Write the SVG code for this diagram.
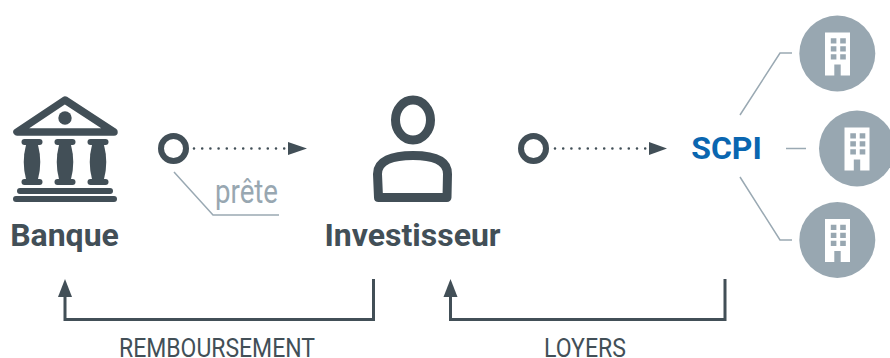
<svg xmlns="http://www.w3.org/2000/svg" width="890" height="358" viewBox="0 0 890 358">
<style>
.lab{font-family:Roboto,"Liberation Sans",sans-serif;font-weight:700;fill:#424f57}
.thin{font-family:Roboto,"Liberation Sans",sans-serif;font-weight:400}
.ring{fill:none;stroke:#424f57;stroke-width:6}
.dot{fill:none;stroke:#424f57;stroke-width:2.6;stroke-linecap:round;stroke-dasharray:0 8.2}
.hair{fill:none;stroke:#9aa9b3;stroke-width:1.5}
.ret{fill:none;stroke:#424f57;stroke-width:3}
.dark{fill:#424f57}
.bub{fill:#98a7b1}
</style>
<defs>
<g id="bld">
<path fill="#fff" d="M-12.500-21h25v43h-9.300v-11h-6.400v11h-9.300z"/>
<path fill="#98a7b1" d="M-6.700-15.300h5.600v5.300h-5.600zM2.700-15.300h5.600v5.300h-5.600zM-6.700-7.300h5.600v5.300h-5.600zM2.700-7.300h5.600v5.300h-5.600zM-6.700 .7h5.600v5.300h-5.600zM2.700 .7h5.600v5.300h-5.600z"/>
</g>
<g id="col">
<rect x="-10.500" y="139" width="21" height="6" rx="3"/>
<rect x="-10.500" y="179" width="21" height="6" rx="3"/>
<path d="M-6 145Q-10.500 162-6 179H6Q10.500 162 6 145z"/>
</g>
</defs>
<g id="banque">
<path fill="none" stroke="#424f57" stroke-width="7.500" stroke-linejoin="round" d="M65 100L17 132H114z"/>
<circle class="dark" cx="65" cy="118" r="6.700"/>
<use href="#col" x="32" class="dark"/>
<use href="#col" x="65" class="dark"/>
<use href="#col" x="98" class="dark"/>
<rect class="dark" x="17" y="188" width="96" height="6" rx="3"/>
<rect class="dark" x="13" y="196" width="104" height="6" rx="3"/>
<text class="lab" x="64.500" y="246" font-size="32" text-anchor="middle">Banque</text>
</g>
<g id="investisseur">
<ellipse cx="413" cy="120" rx="17.500" ry="20" fill="none" stroke="#424f57" stroke-width="9"/>
<path fill="none" stroke="#424f57" stroke-width="9" stroke-linejoin="round" d="M378.500 197.500L377.500 174C377.500 161 392 155.500 413 155.500S447.500 161 447.500 174L447 197.500z"/>
<text class="lab" x="412.500" y="246" font-size="32" text-anchor="middle">Investisseur</text>
</g>
<g id="scpi">
<text x="726.500" y="158.500" font-family="Roboto,'Liberation Sans',sans-serif" font-weight="700" font-size="32" fill="#0a66b0" text-anchor="middle">SCPI</text>
</g>
<g id="immeuble-1"><circle class="bub" cx="837.300" cy="53.500" r="38"/><use href="#bld" x="837.500" y="53.500"/></g>
<g id="immeuble-2"><circle class="bub" cx="857" cy="148.500" r="38"/><use href="#bld" x="857" y="148.500"/></g>
<g id="immeuble-3"><circle class="bub" cx="837.300" cy="240" r="38"/><use href="#bld" x="837.500" y="240"/></g>
<g id="connectors">
<circle class="ring" cx="173.500" cy="148.500" r="12.500"/>
<path class="dot" d="M194 148.500H288"/>
<path class="dark" d="M288 142L307 148.500L288 155z"/>
<circle class="ring" cx="533.500" cy="148.500" r="12.500"/>
<path class="dot" d="M555 148.500H649"/>
<path class="dark" d="M649 142L667 148.500L649 155z"/>
<path class="hair" d="M174 172L213 215H279"/>
<path class="hair" d="M740 115L780 53H792"/>
<path class="hair" d="M786 148.500H806"/>
<path class="hair" d="M740 177L780 240H792"/>
<path class="ret" d="M65 296V319.500H373.500V279"/>
<path class="dark" d="M65 279L72 297H58z"/>
<path class="ret" d="M450.500 296V319.500H725V279"/>
<path class="dark" d="M450.500 279L457.500 297H443.500z"/>
</g>
<text class="thin" x="215" y="203" font-size="33" fill="#98a7b1" textLength="63" lengthAdjust="spacingAndGlyphs">prête</text>
<text class="thin" x="119" y="357" font-size="26" fill="#424f57" textLength="196" lengthAdjust="spacingAndGlyphs">REMBOURSEMENT</text>
<text class="thin" x="544" y="357" font-size="26" fill="#424f57" textLength="82" lengthAdjust="spacingAndGlyphs">LOYERS</text>
</svg>
